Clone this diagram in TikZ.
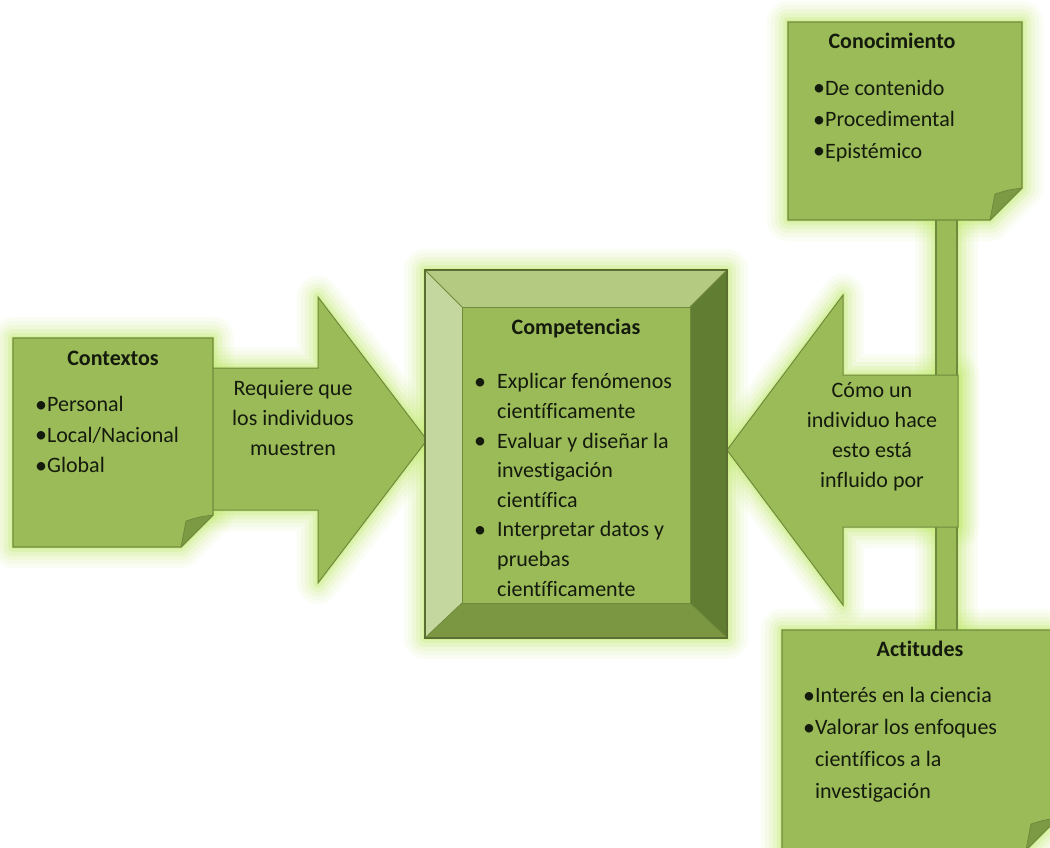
\documentclass[tikz,border=0pt]{standalone}
\usepackage{fontspec}
\setmainfont{Carlito}[Ligatures=NoCommon]
\definecolor{olfill}{HTML}{9BBB59}
\definecolor{olline}{HTML}{6F8A3C}
\definecolor{olfold}{HTML}{7C9A43}
\definecolor{glowc}{HTML}{C4EC70}
\definecolor{bevtop}{HTML}{B3CA80}
\definecolor{bevleft}{HTML}{C4D79E}
\definecolor{bevright}{HTML}{607D32}
\definecolor{bevbot}{HTML}{7B9742}
\definecolor{txtc}{HTML}{141A0C}
\newcommand\myglow[1]{\foreach \w/\o in {42/0.07,34/0.09,26/0.12,18/0.17,10/0.25,4/0.35}{\draw[glow, line width=\w pt, opacity=\o] #1;}}
\newcommand\bul{{\fontsize{24}{30}\selectfont\raisebox{-0.6pt}{\textbullet}}}
\newcommand\cb{\makebox[23pt][l]{\bul}}
\newcommand\ci{\hspace*{23pt}}
\tikzset{
  glow/.style={draw=glowc, line join=round},
  shapefill/.style={fill=olfill, draw=olline, line width=1.3pt, line join=miter},
  foldfill/.style={fill=olfold, draw=olline, line width=0.8pt, line join=round},
  txt/.style={inner sep=0pt, text=txtc, font=\fontsize{22}{30}\selectfont},
}
\begin{document}
\begin{tikzpicture}[x=1pt,y=-1pt]
\useasboundingbox (0,0) rectangle (1050,847);
\fill[white] (0,0) rectangle (1050,847);
\clip (0,0) rectangle (1050,847);
% glows
\myglow{(936,210) rectangle (957,640)}
\myglow{(211,368) -- (318,368) -- (318,297) -- (427,440) -- (318,583) -- (318,510) -- (211,510) -- cycle}
\myglow{(958,375) -- (843,375) -- (843,295) -- (727,450) -- (843,605) -- (843,527) -- (958,527) -- cycle}
\myglow{(13,338) -- (213,338) -- (213,515) -- (181,547) -- (13,547) -- cycle}
\myglow{(788,22) -- (1022,22) -- (1022,188) -- (990,220) -- (788,220) -- cycle}
\myglow{(782,630) -- (1058,630) -- (1058,818) -- (1026,850) -- (782,850) -- cycle}
\myglow{(425,270) rectangle (727,638)}
% bar
\draw[shapefill] (936,210) rectangle (957,640);
% arrows
\draw[shapefill, line width=1pt] (211,368) -- (318,368) -- (318,297) -- (427,440) -- (318,583) -- (318,510) -- (211,510) -- cycle;
\draw[shapefill, line width=1pt] (958,375) -- (843,375) -- (843,295) -- (727,450) -- (843,605) -- (843,527) -- (958,527) -- cycle;
% notes
\draw[shapefill] (13,338) -- (213,338) -- (213,515) -- (181,547) -- (13,547) -- cycle;
\draw[foldfill] (181,547) .. controls (183,534) .. (186,521) .. controls (199,517) .. (213,515) -- cycle;
\draw[shapefill] (788,22) -- (1022,22) -- (1022,188) -- (990,220) -- (788,220) -- cycle;
\draw[foldfill] (990,220) .. controls (992,207) .. (995,194) .. controls (1008,190) .. (1022,188) -- cycle;
\draw[shapefill] (782,630) -- (1058,630) -- (1058,818) -- (1026,850) -- (782,850) -- cycle;
\draw[foldfill] (1026,850) .. controls (1028,837) .. (1031,824) .. controls (1044,820) .. (1058,818) -- cycle;
% bevel box
\fill[bevtop] (425,270) -- (727,270) -- (690,307) -- (462,307) -- cycle;
\fill[bevleft] (425,270) -- (462,307) -- (462,603) -- (425,638) -- cycle;
\fill[bevright] (727,270) -- (727,638) -- (690,603) -- (690,307) -- cycle;
\fill[bevbot] (425,638) -- (462,603) -- (690,603) -- (727,638) -- cycle;
\fill[olfill] (462,307) rectangle (690,603);
\draw[olline, line width=0.8pt] (425,270) -- (462,307) (727,270) -- (690,307) (727,638) -- (690,603) (425,638) -- (462,603);
\draw[olline, line width=0.8pt] (462,307) rectangle (690,603);
\draw[olline!80!black, line width=1.5pt] (425,270) rectangle (727,638);
% texts
\node[txt, anchor=north, font=\fontsize{22}{30}\selectfont\bfseries] (ctxt) at (113,344) {\strut Contextos};
\node[txt, anchor=north west, align=left, font=\fontsize{22}{30.5}\selectfont] (ctxl) at (35,390) {\strut\bul Personal\\\bul Local/Nacional\\\bul Global};
\node[txt, anchor=north, align=center] (req) at (293,374) {\strut Requiere que\\los individuos\\muestren};
\node[txt, anchor=north, font=\fontsize{22}{30}\selectfont\bfseries] (compt) at (576,313) {\strut Competencias};
\node[txt, anchor=north west, align=left, font=\fontsize{22}{29.6}\selectfont] (compl) at (474,368) {\strut\cb Explicar fenómenos\\\ci científicamente\\\cb Evaluar y diseñar la\\\ci investigación\\\ci científica\\\cb Interpretar datos y\\\ci pruebas\\\ci científicamente};
\node[txt, anchor=north, align=center] (como) at (872,376) {\strut Cómo un\\individuo hace\\esto está\\influido por};
\node[txt, anchor=north, font=\fontsize{22}{30}\selectfont\bfseries] (cont) at (892,27) {\strut Conocimiento};
\node[txt, anchor=north west, align=left, font=\fontsize{22}{31.5}\selectfont] (conl) at (813,73) {\strut\bul De contenido\\\bul Procedimental\\\bul Epistémico};
\node[txt, anchor=north, font=\fontsize{22}{30}\selectfont\bfseries] (actt) at (920,635) {\strut Actitudes};
\node[txt, anchor=north west, align=left, font=\fontsize{22}{32}\selectfont] (actl) at (803,680) {\strut\bul Interés en la ciencia\\\bul Valorar los enfoques\\\phantom{\bul}científicos a la\\\phantom{\bul}investigación};
\end{tikzpicture}
\end{document}
